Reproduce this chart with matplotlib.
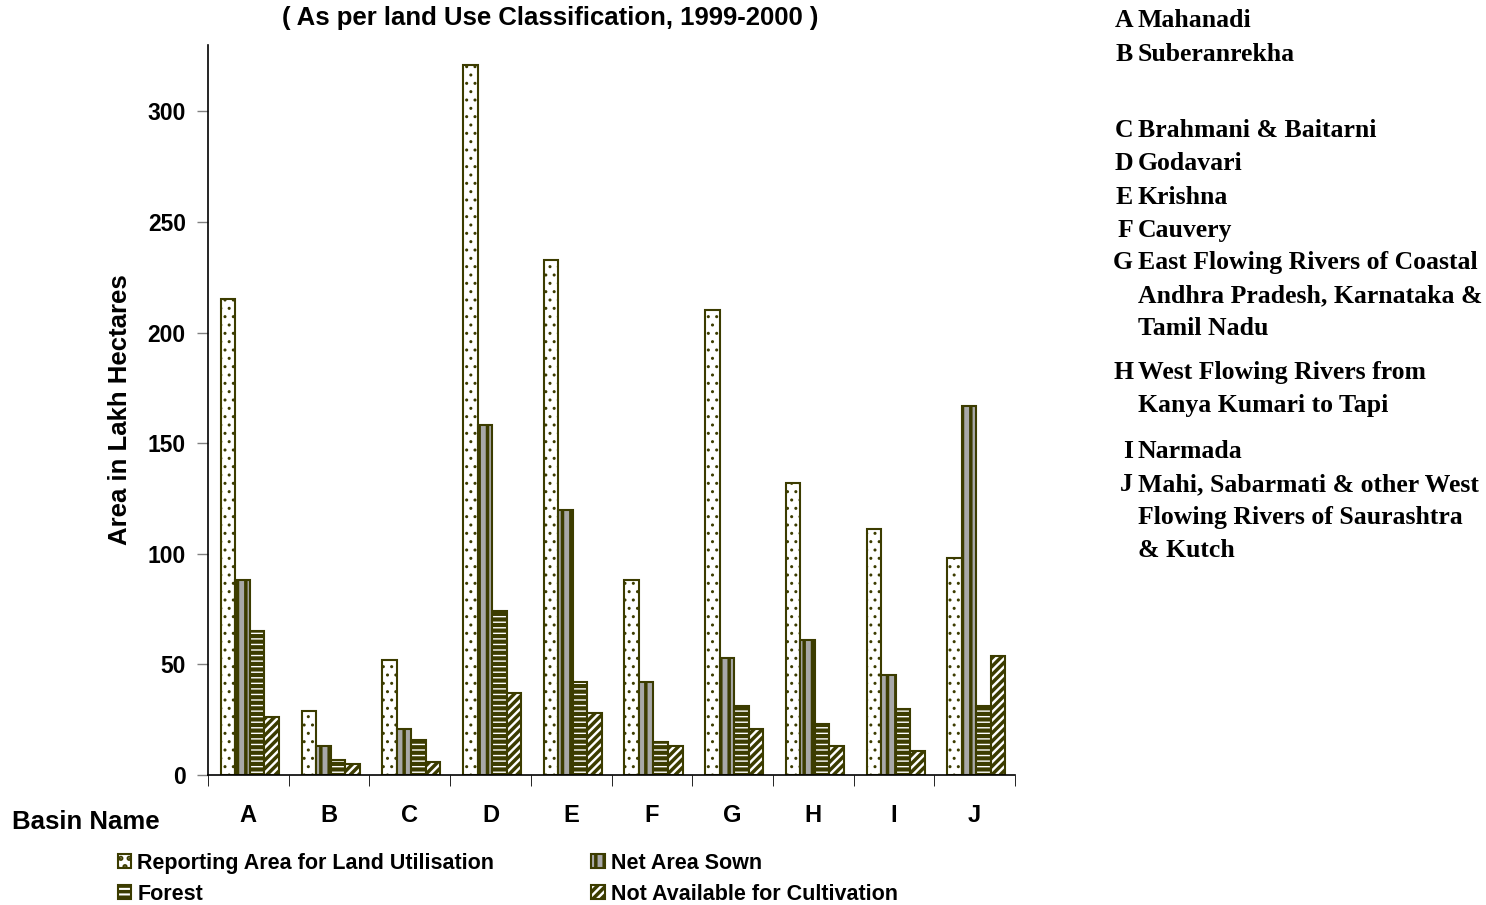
import matplotlib
matplotlib.use("Agg")
import matplotlib.pyplot as plt
import numpy as np

plt.rcParams['font.family'] = ['Liberation Sans', 'DejaVu Sans']

basins = ['A', 'B', 'C', 'D', 'E', 'F', 'G', 'H', 'I', 'J']
reporting = [215, 29, 52, 321, 233, 88, 210, 132, 111, 98]
net_sown = [88, 13, 21, 158, 120, 42, 53, 61, 45, 167]
forest = [65, 7, 16, 74, 42, 15, 31, 23, 30, 31]
not_avail = [26, 5, 6, 37, 28, 13, 21, 13, 11, 54]
series_names = ['Reporting Area for Land Utilisation', 'Net Area Sown',
                'Forest', 'Not Available for Cultivation']
yticks = [0, 50, 100, 150, 200, 250, 300]

key_letters = ['A', 'B', 'C', 'D', 'E', 'F', 'G', 'H', 'I', 'J']
key_names = ['Mahanadi', 'Suberanrekha', 'Brahmani & Baitarni', 'Godavari',
             'Krishna', 'Cauvery',
             'East Flowing Rivers of Coastal\nAndhra Pradesh, Karnataka &\nTamil Nadu',
             'West Flowing Rivers from\nKanya Kumari to Tapi',
             'Narmada',
             'Mahi, Sabarmati & other West\nFlowing Rivers of Saurashtra\n& Kutch']
key_y = [19, 53, 129, 162, 196, 229, 261, 371, 450, 483]

olive = '#3c3c00'
W, H = 1486, 905
fig = plt.figure(figsize=(W / 100, H / 100), dpi=100)
ax = fig.add_axes([208 / W, 1 - 775 / H, (1015 - 208) / W, (775 - 45) / H])

x = np.arange(len(basins))
bw = 0.18
styles = [
    dict(facecolor='white', hatch='..', hw=1.0),
    dict(facecolor='#a8a8a8', hatch='||', hw=2.5),
    dict(facecolor='white', hatch='---', hw=3.0),
    dict(facecolor='white', hatch='////', hw=2.5),
]
data = [reporting, net_sown, forest, not_avail]
handles = []
for i, (vals, st) in enumerate(zip(data, styles)):
    plt.rcParams['hatch.linewidth'] = st['hw']
    bars = ax.bar(x + (i - 1.5) * bw + 0.02, vals, bw, facecolor=st['facecolor'],
                  edgecolor=olive, hatch=st['hatch'], linewidth=1.5,
                  label=series_names[i], zorder=2)
    for b in bars:
        if hasattr(b, 'set_hatch_linewidth'):
            b.set_hatch_linewidth(st['hw'])
    handles.append(bars)

ax.set_xlim(-0.5, len(basins) - 0.5)
ax.set_ylim(0, 330)
ax.set_yticks(yticks)
ax.set_yticklabels([str(v) for v in yticks], fontsize=16.5, fontweight='bold')
ax.set_xticks(x)
ax.set_xticklabels(basins, fontsize=17, fontweight='bold')
ax.tick_params(axis='x', length=0, pad=21)
ax.set_xticks(np.arange(-0.5, len(basins), 1.0), minor=True)
ax.tick_params(axis='x', which='minor', length=8, direction='out', color='black')
ax.tick_params(axis='y', length=8, direction='out', width=1, color='#808080', pad=8)
for s in ['top', 'right']:
    ax.spines[s].set_visible(False)
ax.spines['left'].set_color('black')
ax.spines['bottom'].set_color('black')
ax.spines['left'].set_linewidth(1.2)
ax.spines['bottom'].set_linewidth(1.2)

ax.set_ylabel('Area in Lakh Hectares', fontsize=18.5, fontweight='bold', labelpad=11)

fig.text(550 / W, 1 - 18 / H, '( As per land Use Classification, 1999-2000 )',
         ha='center', va='center', fontsize=18.5, fontweight='bold')
fig.text(12 / W, 1 - 822 / H, 'Basin Name', ha='left', va='center',
         fontsize=18.5, fontweight='bold')

order = [0, 2, 1, 3]
fig.legend([handles[k] for k in order], [series_names[k] for k in order],
           loc='upper left', bbox_to_anchor=(118 / W, 1 - 853 / H), ncol=2,
           frameon=False, prop={'weight': 'bold', 'size': 15.5},
           handlelength=0.62, handleheight=0.62, handletextpad=0.28,
           columnspacing=4.5, labelspacing=0.45, borderpad=0, borderaxespad=0)

line_step = 33
for letter, name, yy in zip(key_letters, key_names, key_y):
    fig.text(1133 / W, 1 - (yy + 8) / H, letter, ha='right', va='baseline',
             fontsize=18.5, fontweight='bold', family='Liberation Serif')
    for k, line in enumerate(name.split('\n')):
        fig.text(1138 / W, 1 - (yy + 8 + k * line_step) / H, line, ha='left',
                 va='baseline', fontsize=18.5, fontweight='bold',
                 family='Liberation Serif')

fig.savefig('out.png', dpi=100)
